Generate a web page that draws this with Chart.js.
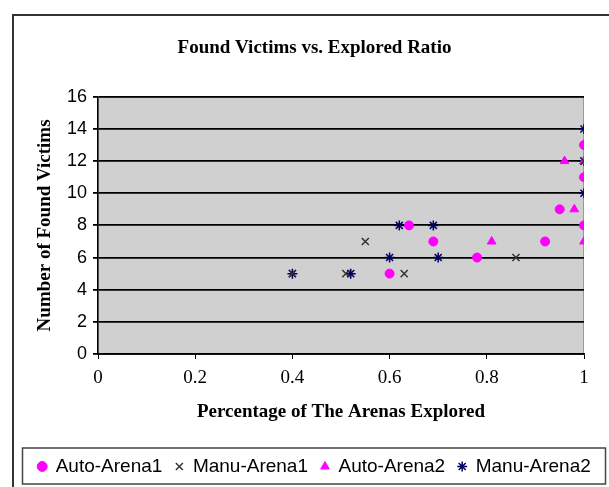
<!DOCTYPE html>
<html>
<head>
<meta charset="utf-8">
<script src="https://cdn.jsdelivr.net/npm/chart.js@4"></script>
<style>
  html, body { margin: 0; padding: 0; background: #fff; }
  #wrap { width: 609px; height: 487px; }
</style>
</head>
<body>
<div id="wrap"><canvas id="c" width="609" height="487"></canvas></div>
<script>
// values
const autoArena1X = [0.60, 0.64, 0.69, 0.78, 0.92, 0.95, 1.00, 1.00, 1.00];
const autoArena1Y = [5, 8, 7, 6, 7, 9, 8, 11, 13];
const manuArena1X = [0.40, 0.51, 0.55, 0.63, 0.86, 1.00];
const manuArena1Y = [5, 5, 7, 5, 6, 12];
const autoArena2X = [0.81, 0.96, 0.98, 1.00, 1.00];
const autoArena2Y = [7, 12, 9, 7, 12];
const manuArena2X = [0.40, 0.52, 0.60, 0.62, 0.69, 0.70, 1.00, 1.00, 1.00];
const manuArena2Y = [5, 5, 6, 8, 8, 6, 14, 12, 10];

const seriesNames = ['Auto-Arena1', 'Manu-Arena1', 'Auto-Arena2', 'Manu-Arena2'];
const xTickLabels = ['0', '0.2', '0.4', '0.6', '0.8', '1'];
const yTickLabels = ['0', '2', '4', '6', '8', '10', '12', '14', '16'];

function pairs(xs, ys) {
    return xs.map((x, i) => ({x: x, y: ys[i]}));
}

const MAGENTA = '#ff00ff';

// white page, outer frame, grey plot area, box round the legend
const decor = {
    id: 'decor',
    beforeDraw(chart) {
        const ctx = chart.ctx;
        const a = chart.chartArea;
        ctx.save();
        ctx.fillStyle = '#fff';
        ctx.fillRect(0, 0, chart.width, chart.height);
        ctx.strokeStyle = '#333';
        ctx.lineWidth = 2;
        ctx.strokeRect(13, 15, chart.width + 20, chart.height + 20);
        ctx.fillStyle = '#d0d0d0';
        ctx.fillRect(a.left, a.top, a.right - a.left, a.bottom - a.top);
        ctx.strokeStyle = '#9a9a9a';
        ctx.lineWidth = 1;
        ctx.strokeRect(a.left + 0.5, a.top + 0.5, a.right - a.left - 1, a.bottom - a.top);
        ctx.restore();
    },
    afterDraw(chart) {
        const ctx = chart.ctx;
        const l = chart.legend;
        ctx.save();
        ctx.strokeStyle = '#444';
        ctx.lineWidth = 1.5;
        ctx.strokeRect(l.left + 0.5, l.top + 4, l.width - 2, 36);
        ctx.restore();
    }
};

const ctx = document.getElementById('c').getContext('2d');
const chart = new Chart(ctx, {
    type: 'scatter',
    data: {
        datasets: [{
            label: seriesNames[0],
            data: pairs(autoArena1X, autoArena1Y),
            pointStyle: 'circle',
            pointRadius: 4.5,
            backgroundColor: MAGENTA,
            borderColor: MAGENTA,
            borderWidth: 1
        }, {
            label: seriesNames[1],
            data: pairs(manuArena1X, manuArena1Y),
            pointStyle: 'crossRot',
            pointRadius: 5,
            backgroundColor: '#333',
            borderColor: '#333',
            borderWidth: 1.5
        }, {
            label: seriesNames[2],
            data: pairs(autoArena2X, autoArena2Y),
            pointStyle: 'triangle',
            pointRadius: 5,
            backgroundColor: MAGENTA,
            borderColor: MAGENTA,
            borderWidth: 1
        }, {
            label: seriesNames[3],
            data: pairs(manuArena2X, manuArena2Y),
            pointStyle: 'star',
            pointRadius: 5,
            backgroundColor: '#000060',
            borderColor: '#000060',
            borderWidth: 1.5
        }]
    },
    options: {
        responsive: false,
        animation: false,
        layout: { padding: { left: 22, right: 2, top: 0, bottom: 1 } },
        scales: {
            x: {
                type: 'linear',
                min: 0,
                max: 1,
                ticks: {
                    stepSize: 0.2,
                    color: '#000',
                    padding: 8,
                    font: { family: 'Liberation Serif', size: 19 },
                    callback: (v, i) => xTickLabels[i]
                },
                grid: { drawOnChartArea: false, color: '#000', tickLength: 5 },
                border: { color: '#000', width: 1.5 },
                title: {
                    display: true,
                    text: 'Percentage of The Arenas Explored',
                    color: '#000',
                    font: { family: 'Liberation Serif', size: 19, weight: 'bold' },
                    padding: { top: 0, bottom: 21 }
                },
                afterFit(s) { s.height = 90; }
            },
            y: {
                min: 0,
                max: 16,
                ticks: {
                    stepSize: 2,
                    color: '#000',
                    padding: 6,
                    font: { family: 'Liberation Sans', size: 18 },
                    callback: (v, i) => yTickLabels[i]
                },
                grid: { color: '#000', lineWidth: 1.8, tickLength: 5 },
                border: { color: '#000', width: 1.5 },
                title: {
                    display: true,
                    text: 'Number of Found Victims',
                    color: '#000',
                    font: { family: 'Liberation Serif', size: 19, weight: 'bold' },
                    padding: { top: 12, bottom: 0 }
                },
                afterFit(s) { s.width = 76; }
            },
            y2: {
                position: 'right',
                display: true,
                grid: { display: false },
                ticks: { display: false },
                border: { display: false },
                afterFit(s) { s.width = 23; }
            }
        },
        plugins: {
            title: {
                display: true,
                text: 'Found Victims vs. Explored Ratio',
                color: '#000',
                font: { family: 'Liberation Serif', size: 19, weight: 'bold' },
                padding: { top: 37, bottom: 37 }
            },
            legend: {
                position: 'bottom',
                labels: {
                    usePointStyle: true,
                    boxWidth: 8,
                    boxHeight: 7,
                    padding: 13,
                    color: '#000',
                    font: { family: 'Liberation Sans', size: 19 }
                }
            },
            tooltip: { enabled: false }
        }
    },
    plugins: [decor]
});
</script>
</body>
</html>
